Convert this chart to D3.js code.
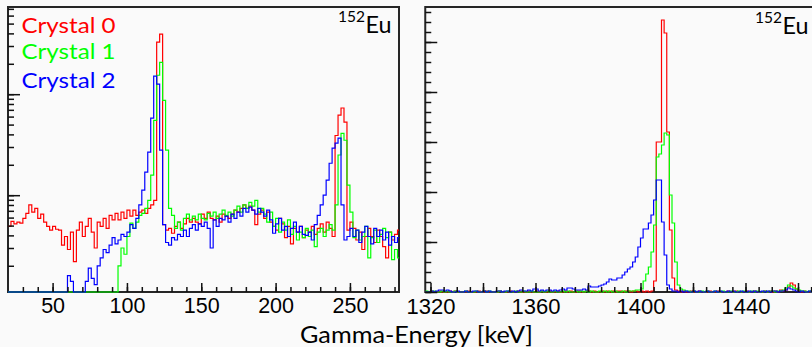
<!DOCTYPE html>
<html>
<head>
<meta charset="utf-8">
<script src="https://cdn.jsdelivr.net/npm/d3@7"></script>
<style>
  body { margin: 0; background: #fafafa; }
  svg { display: block; }
</style>
</head>
<body>
<div id="chart"></div>
<script>
// ---- data: counts per bin ----
// low-energy panel: 2 keV bins starting at 20 keV (log y)
var lowBinStart = 20, lowBinWidth = 2;
var lowCrystal0 = [
  4.9, 5.5, 5.2, 5.4, 5.3, 5.9, 6.6, 8.0, 6.8, 7.4,
  5.9, 6.5, 5.4, 4.9, 4.5, 4.9, 4.6, 4.5, 3.2, 3.9,
  2.9, 4.3, 2.2, 4.5, 5.4, 3.9, 4.9, 5.9, 4.3, 3.0,
  5.4, 4.9, 5.9, 4.7, 6.3, 5.7, 6.6, 5.7, 6.8, 5.9,
  7.1, 6.2, 7.1, 6.3, 6.8, 7.1, 6.6, 7.4, 8.0, 8.9,
  327, 393, 5.1, 4.5, 4.7, 4.2, 4.9, 5.4, 4.7, 5.2,
  5.9, 5.4, 5.9, 5.4, 5.2, 6.5, 5.9, 6.8, 5.9, 5.7,
  6.2, 5.4, 6.5, 6.2, 5.9, 6.5, 7.1, 6.8, 7.4, 8.0,
  7.4, 7.8, 7.1, 5.1, 6.5, 7.1, 5.9, 6.8, 5.4, 4.9,
  4.5, 5.9, 5.2, 3.8, 4.9, 3.3, 4.7, 4.3, 4.9, 3.8,
  4.5, 4.3, 4.9, 4.1, 4.7, 5.2, 4.3, 5.4, 4.7, 3.9,
  39, 62, 73, 53, 4.5, 5.4, 4.7, 3.6, 4.3, 2.9,
  3.9, 4.7, 3.9, 3.4, 4.5, 3.9, 3.1, 2.4, 4.3, 3.6,
  4.1, 4.5
];
var lowCrystal1 = [
  0, 0, 0, 0, 0, 0, 0, 0, 0, 0,
  0, 0, 0, 0, 0, 0, 0, 0, 0, 0,
  0, 0, 0, 0, 0, 0, 0, 0, 0, 0,
  0, 0, 0, 0, 0, 0, 0, 2.0, 3.0, 2.6,
  3.9, 5.3, 4.7, 5.4, 6.3, 6.6, 7.4, 8.9, 15.8, 55,
  154, 207, 87, 28, 7.4, 6.3, 4.7, 5.4, 4.5, 5.9,
  6.5, 5.7, 6.2, 5.7, 6.5, 5.9, 5.7, 6.6, 6.2, 6.8,
  5.9, 6.5, 7.1, 6.3, 6.8, 6.2, 7.1, 7.8, 6.8, 8.0,
  7.4, 8.5, 7.8, 8.9, 6.8, 7.4, 6.5, 5.4, 6.8, 4.9,
  5.9, 4.3, 5.4, 4.5, 5.7, 4.1, 4.9, 3.6, 4.3, 3.8,
  4.7, 3.9, 4.5, 3.1, 4.3, 4.7, 3.9, 4.5, 5.1, 4.5,
  8.0, 25, 41, 35, 12.6, 6.8, 3.8, 4.5, 3.6, 3.9,
  4.9, 2.4, 3.8, 4.5, 3.4, 4.1, 4.7, 3.8, 4.3, 2.3,
  2.9, 2.4
];
var lowCrystal2 = [
  0, 0, 0, 0, 0, 0, 0, 0, 0, 0,
  0, 0, 0, 0, 0, 0, 0, 0, 0, 0,
  1.6, 1.4, 0, 0, 0, 0, 1.4, 1.9, 1.5, 1.3,
  2.0, 2.4, 2.9, 2.7, 3.2, 3.8, 3.3, 3.6, 4.1, 3.9,
  4.3, 5.1, 4.7, 5.9, 8.0, 11.2, 16.9, 26.7, 58, 151,
  126, 28, 5.1, 3.4, 3.2, 3.8, 3.6, 4.1, 3.9, 4.5,
  3.9, 4.7, 5.1, 4.5, 5.2, 4.9, 5.4, 4.7, 3.0, 5.7,
  4.9, 5.9, 5.7, 6.2, 5.4, 6.5, 5.9, 6.8, 6.2, 7.4,
  6.8, 7.6, 7.1, 6.5, 7.4, 6.8, 6.2, 7.1, 5.7, 4.2,
  5.2, 5.9, 4.5, 4.9, 3.9, 4.7, 5.4, 4.3, 4.9, 4.1,
  4.0, 4.3, 3.6, 5.1, 6.3, 8.0, 10, 14.1, 20.7, 29.2,
  32.7, 36.7, 8.0, 3.6, 3.9, 4.7, 3.9, 4.5, 3.4, 4.3,
  4.9, 3.9, 3.3, 4.7, 3.9, 4.5, 3.6, 4.3, 3.2, 3.9,
  3.4, 3.8
];

// high-energy panel: 1 keV bins starting at 1318 keV (linear y)
var highBinStart = 1318, highBinWidth = 1;
var highCrystal0 = [
  0, 0, 2, 0, 0, 2, 0, 0, 0, 2,
  0, 2, 0, 0, 0, 0, 2, 0, 0, 0,
  2, 0, 0, 2, 0, 0, 0, 0, 2, 0,
  0, 0, 2, 0, 0, 2, 0, 0, 0, 2,
  0, 0, 2, 0, 2, 0, 0, 2, 0, 0,
  2, 0, 0, 2, 0, 2, 0, 0, 2, 0,
  0, 2, 2, 0, 2, 0, 0, 2, 0, 2,
  0, 2, 0, 2, 2, 0, 2, 2, 0, 2,
  2, 0, 2, 0, 2, 0, 2, 22, 300, 300,
  544, 518, 320, 124, 28, 4, 2, 0, 2, 0,
  0, 2, 0, 0, 2, 0, 0, 0, 2, 0,
  0, 2, 0, 0, 0, 2, 0, 0, 2, 0,
  0, 0, 2, 0, 0, 2, 0, 0, 0, 2,
  0, 2, 0, 2, 0, 4, 2, 4, 10, 18,
  14, 6, 2, 0, 2, 0, 0, 2, 0, 0
];
var highCrystal1 = [
  2, 0, 0, 2, 0, 0, 2, 0, 2, 0,
  0, 2, 0, 0, 0, 2, 0, 0, 0, 2,
  0, 0, 2, 0, 2, 0, 0, 0, 2, 0,
  0, 2, 0, 0, 2, 0, 0, 2, 0, 0,
  2, 0, 0, 0, 2, 0, 2, 0, 0, 2,
  0, 0, 2, 0, 2, 0, 0, 2, 0, 2,
  0, 2, 0, 2, 0, 0, 2, 0, 2, 0,
  2, 0, 2, 0, 0, 2, 0, 2, 2, 2,
  4, 4, 6, 22, 36, 50, 80, 134, 270, 276,
  294, 318, 314, 194, 138, 60, 14, 6, 4, 2,
  2, 0, 2, 0, 0, 2, 0, 2, 0, 0,
  2, 0, 0, 2, 0, 0, 2, 0, 0, 2,
  0, 2, 0, 0, 2, 0, 2, 0, 0, 2,
  0, 2, 2, 0, 2, 2, 4, 8, 14, 12,
  8, 6, 4, 2, 2, 0, 2, 0, 0, 2
];
var highCrystal2 = [
  0, 0, 2, 0, 2, 4, 4, 2, 4, 2,
  0, 0, 2, 0, 0, 2, 0, 0, 2, 2,
  0, 0, 2, 0, 2, 0, 0, 2, 2, 0,
  2, 2, 0, 2, 0, 2, 4, 2, 2, 4,
  2, 6, 6, 2, 4, 2, 4, 4, 2, 4,
  2, 4, 6, 4, 8, 8, 6, 4, 4, 4,
  6, 4, 12, 10, 10, 10, 12, 14, 16, 20,
  26, 24, 24, 28, 28, 34, 40, 46, 50, 60,
  70, 90, 108, 126, 126, 138, 154, 184, 224, 224,
  140, 74, 14, 6, 2, 2, 0, 2, 0, 2,
  0, 0, 2, 0, 2, 0, 0, 2, 0, 0,
  2, 0, 2, 0, 0, 2, 0, 2, 0, 0,
  2, 0, 0, 2, 0, 2, 0, 0, 2, 0,
  2, 0, 2, 2, 0, 2, 2, 4, 8, 6,
  4, 2, 0, 2, 0, 0, 2, 0, 2, 0
];

var crystalNames = ['Crystal 0', 'Crystal 1', 'Crystal 2'];
var crystalColors = ['#ff0000', '#00ff00', '#0000ff'];

var lowTickLabels = [50, 100, 150, 200, 250];
var highTickLabels = [1320, 1360, 1400, 1440];

// ---- layout ----
var W = 812, H = 347;
var plotTop = 7, plotBottom = 292;

var svg = d3.select('#chart').append('svg')
  .attr('width', W).attr('height', H);
svg.append('rect').attr('width', W).attr('height', H).attr('fill', '#fafafa');

var xLow = d3.scaleLinear().domain([20, 283]).range([8, 399]);
var yLow = d3.scaleLog().domain([1.1, 730]).range([plotBottom, plotTop]);
var xHigh = d3.scaleLinear().domain([1318, 1468]).range([425.25, 819]);
var yHigh = d3.scaleLinear().domain([0, 570]).range([plotBottom, plotTop]);

function drawPanel(id, x, y, series, binStart, binWidth, isLog) {
  var g = svg.append('g');
  var x0 = x.range()[0], x1 = x.range()[1];

  g.append('rect')
    .attr('x', x0).attr('y', plotTop)
    .attr('width', x1 - x0).attr('height', plotBottom - plotTop)
    .attr('fill', 'none').attr('stroke', '#262626').attr('stroke-width', 2);

  svg.append('clipPath').attr('id', id)
    .append('rect').attr('x', x0).attr('y', plotTop)
    .attr('width', x1 - x0).attr('height', plotBottom - plotTop + 1);

  var line = d3.line()
    .x(function(d) { return x(d[0]); })
    .y(function(d) {
      if (isLog && d[1] <= 0) return plotBottom;
      return y(d[1]);
    })
    .curve(d3.curveStepAfter);

  series.forEach(function(vals, k) {
    var pts = vals.map(function(v, i) { return [binStart + i * binWidth, v]; });
    pts.push([binStart + vals.length * binWidth, vals[vals.length - 1]]);
    g.append('path')
      .attr('clip-path', 'url(#' + id + ')')
      .attr('d', line(pts))
      .attr('fill', 'none')
      .attr('stroke', crystalColors[k])
      .attr('stroke-width', 1.2);
  });
  return g;
}

function ticks(g, axis, transform) {
  var a = g.append('g').attr('transform', transform).call(axis);
  a.select('.domain').remove();
  a.selectAll('line').attr('stroke', '#111').attr('stroke-width', 1.5);
  return a;
}

// low-energy panel
var gLow = drawPanel('clipLow', xLow, yLow, [lowCrystal0, lowCrystal1, lowCrystal2], lowBinStart, lowBinWidth, true);

var lowYAll = yLow.ticks().filter(function(v) { return v >= 1.1 && v <= 730; });
var lowYMajor = lowYAll.filter(function(v) { return Math.abs(Math.log10(v) - Math.round(Math.log10(v))) < 1e-9; });
ticks(gLow, d3.axisRight(yLow).tickValues(lowYAll).tickSize(6).tickFormat(''), 'translate(8,0)');
ticks(gLow, d3.axisRight(yLow).tickValues(lowYMajor).tickSize(12).tickFormat(''), 'translate(8,0)');
ticks(gLow, d3.axisTop(xLow).tickValues(d3.range(30, 283, 10)).tickSize(5).tickFormat(''), 'translate(0,' + plotBottom + ')');
ticks(gLow, d3.axisTop(xLow).tickValues(lowTickLabels).tickSize(9).tickFormat(''), 'translate(0,' + plotBottom + ')');

// high-energy panel
var gHigh = drawPanel('clipHigh', xHigh, yHigh, [highCrystal0, highCrystal1, highCrystal2], highBinStart, highBinWidth, false);

ticks(gHigh, d3.axisRight(yHigh).tickValues(d3.range(0, 571, 20)).tickSize(6).tickFormat(''), 'translate(425.25,0)');
ticks(gHigh, d3.axisRight(yHigh).tickValues(d3.range(0, 571, 100)).tickSize(12).tickFormat(''), 'translate(425.25,0)');
ticks(gHigh, d3.axisTop(xHigh).tickValues(d3.range(1320, 1468, 5)).tickSize(5).tickFormat(''), 'translate(0,' + plotBottom + ')');
ticks(gHigh, d3.axisTop(xHigh).tickValues(d3.range(1320, 1468, 20)).tickSize(9).tickFormat(''), 'translate(0,' + plotBottom + ')');

// tick labels
function labels(x, values, size) {
  var a = svg.append('g').attr('transform', 'translate(0,' + plotBottom + ')')
    .call(d3.axisBottom(x).tickValues(values).tickSize(0).tickPadding(6).tickFormat(d3.format('d')));
  a.select('.domain').remove();
  a.selectAll('text')
    .attr('font-family', '"Liberation Sans", Arial, sans-serif')
    .attr('font-size', size)
    .attr('fill', '#000');
}
labels(xLow, lowTickLabels, 21.5);
labels(xHigh, highTickLabels, 22);

// legend
var legendBaselines = [33, 59, 88];
crystalNames.forEach(function(name, k) {
  svg.append('text')
    .attr('x', 21.5).attr('y', legendBaselines[k])
    .attr('font-family', 'Lato, sans-serif').attr('font-size', 21.5)
    .attr('textLength', 94).attr('lengthAdjust', 'spacingAndGlyphs')
    .attr('fill', crystalColors[k])
    .text(name);
});

// isotope labels
function isotope(xSup, xEu, baseline) {
  svg.append('text').attr('x', xSup).attr('y', baseline - 11)
    .attr('font-family', 'Lato, sans-serif').attr('font-size', 15.5)
    .attr('fill', '#000').text('152');
  svg.append('text').attr('x', xEu).attr('y', baseline)
    .attr('font-family', 'Lato, sans-serif').attr('font-size', 23)
    .attr('textLength', 26).attr('lengthAdjust', 'spacingAndGlyphs')
    .attr('fill', '#000').text('Eu');
}
isotope(338, 365.5, 33.3);
isotope(755, 782.5, 34.3);

// axis title
svg.append('text')
  .attr('x', 300).attr('y', 342.5)
  .attr('font-family', 'Lato, sans-serif').attr('font-size', 23)
  .attr('textLength', 233).attr('lengthAdjust', 'spacingAndGlyphs')
  .attr('fill', '#000')
  .text('Gamma-Energy [keV]');
</script>
</body>
</html>
